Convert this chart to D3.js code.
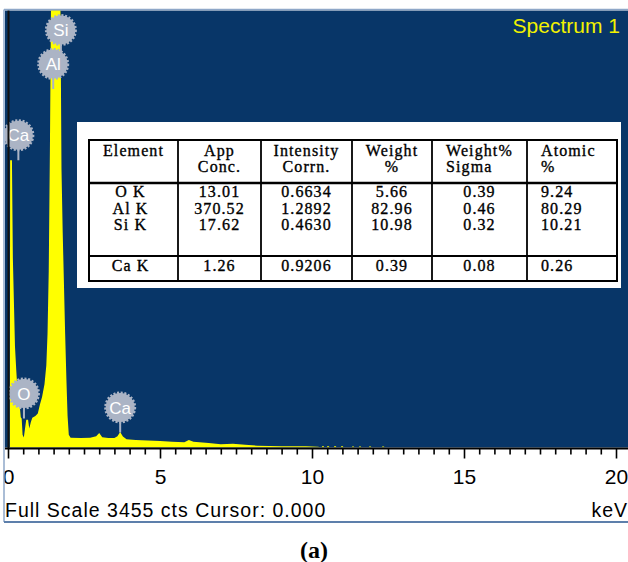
<!DOCTYPE html>
<html>
<head>
<meta charset="utf-8">
<script src="https://cdn.jsdelivr.net/npm/d3@7"></script>
<style>
  body { margin: 0; background: #ffffff; }
  svg { display: block; }
</style>
</head>
<body>
<div id="my_dataviz"></div>
<script>
// ---------------------------//
//       DATA                 //
// ---------------------------//
var fullScale = 3455;
var cursorValue = "0.000";
var spectrumTitle = "Spectrum 1";

// spectrum (keV, counts)
var spectrumKeV = [0, 0.06, 0.07, 0.13, 0.16, 0.2, 0.23, 0.27, 0.3, 0.34, 0.38, 0.42, 0.45, 0.48, 0.52,
  0.56, 0.6, 0.66, 0.7, 0.75, 0.8, 0.9, 0.98, 1.05, 1.12, 1.2, 1.26, 1.3, 1.34, 1.38, 1.42, 1.48,
  1.55, 1.65, 1.72, 1.76, 1.8, 1.84, 1.88, 1.92, 1.96, 2.0, 2.06, 2.4, 2.7, 2.9, 3.0, 3.1, 3.3, 3.5,
  3.6, 3.69, 3.78, 3.9, 4.2, 4.6, 5.0, 5.4, 5.8, 5.95, 6.1, 6.4, 6.6, 7.0, 7.4, 7.8, 8.2, 9.0, 9.8,
  10.2, 10.3, 20.5];
var spectrumCounts = [0, 0, 2274, 2274, 1500, 1100, 800, 620, 500, 420, 350, 240, 230, 100, 80,
  150, 220, 220, 150, 200, 235, 250, 270, 340, 400, 500, 650, 900, 1400, 2400, 3700, 4300,
  4400, 4300, 3700, 2200, 1700, 1300, 900, 550, 250, 100, 78, 75, 78, 90, 115, 82, 75, 76,
  90, 122, 88, 66, 60, 56, 52, 46, 42, 60, 45, 40, 35, 26, 30, 22, 14, 10, 9,
  5, 0, 0];

// isolated counts beyond 10 keV
var noiseKeV = [10.36, 10.53, 10.76, 10.99, 11.35, 11.58, 11.91, 12.34];
var noiseCounts = [10, 10, 10, 10, 8, 8, 8, 8];

// element markers
var markerNames = ["Si", "Al", "Ca", "O", "Ca"];
var markerKeV = [1.74, 1.487, 0.341, 0.525, 3.69];
var markerCounts = [3106, 2837, 2274, 230, 119];

// x axis labels
var tickLabels = [0, 5, 10, 15, 20];

// table
var headerLine1 = ["Element", "App", "Intensity", "Weight", "Weight%", "Atomic"];
var headerLine2 = ["", "Conc.", "Corrn.", "%", "Sigma", "%"];
var elements = ["O K", "Al K", "Si K", "Ca K"];
var appConc = ["13.01", "370.52", "17.62", "1.26"];
var intensityCorrn = ["0.6634", "1.2892", "0.4630", "0.9206"];
var weightPct = ["5.66", "82.96", "10.98", "0.39"];
var weightSigma = ["0.39", "0.46", "0.32", "0.08"];
var atomicPct = ["9.24", "80.29", "10.21", "0.26"];

var fontSans = "'Liberation Sans', Arial, sans-serif";
var fontSerif = "'Liberation Serif', 'Times New Roman', serif";
var bgBlue = "#083668";
var specYellow = "#ffff00";
var markerGrey = "#abb4c5";

var width = 628, height = 562;

var svg = d3.select("#my_dataviz")
  .append("svg")
    .attr("width", width)
    .attr("height", height);

// ---------------------------//
//       SCALES               //
// ---------------------------//
var x = d3.scaleLinear().domain([0, 20]).range([8, 616]);
var y = d3.scaleLinear().domain([0, fullScale]).range([447.5, 11]);

// plot panel
svg.append("rect")
  .attr("x", 5).attr("y", 10.5)
  .attr("width", width - 5).attr("height", 437)
  .attr("fill", bgBlue);

svg.append("defs").append("clipPath")
    .attr("id", "clip")
  .append("rect")
    .attr("x", 5).attr("y", 10.5)
    .attr("width", width - 5).attr("height", 437);

var plot = svg.append("g").attr("clip-path", "url(#clip)");

// ---------------------------//
//       SPECTRUM             //
// ---------------------------//
var spectrum = spectrumKeV.map(function(k, i) { return [k, spectrumCounts[i]]; });

var area = d3.area()
  .x(function(d) { return x(d[0]); })
  .y0(y(0))
  .y1(function(d) { return y(d[1]); });

plot.append("path")
  .datum(spectrum)
  .attr("d", area)
  .attr("fill", specYellow);

plot.selectAll("noise")
  .data(noiseKeV)
  .enter()
  .append("rect")
    .attr("x", function(d) { return x(d) - 1; })
    .attr("y", function(d, i) { return y(noiseCounts[i]); })
    .attr("width", 2)
    .attr("height", function(d, i) { return y(0) - y(noiseCounts[i]); })
    .attr("fill", specYellow);

// y axis line
svg.append("line")
  .attr("x1", 8.5).attr("x2", 8.5)
  .attr("y1", 10.5).attr("y2", 448)
  .attr("stroke", "#111111").attr("stroke-width", 2);

// ---------------------------//
//       MARKERS              //
// ---------------------------//
var markers = plot.selectAll("marker")
  .data(markerNames)
  .enter()
  .append("g")
    .attr("transform", function(d, i) {
      return "translate(" + x(markerKeV[i]) + "," + y(markerCounts[i]) + ")";
    });

markers.append("line")
  .attr("x1", 0).attr("x2", 0)
  .attr("y1", -24).attr("y2", 0)
  .attr("stroke", markerGrey).attr("stroke-width", 2);

markers.append("circle")
  .attr("cx", 0).attr("cy", -25)
  .attr("r", 14.5)
  .attr("fill", markerGrey)
  .attr("stroke", markerGrey)
  .attr("stroke-width", 3)
  .style("stroke-dasharray", "2,1.6");

markers.append("text")
  .attr("x", 0).attr("y", -25)
  .attr("dy", "0.36em")
  .attr("text-anchor", "middle")
  .attr("font-family", fontSans)
  .attr("font-size", 17)
  .attr("fill", "#ffffff")
  .text(function(d) { return d; });

// title
svg.append("text")
  .attr("x", 620).attr("y", 33)
  .attr("text-anchor", "end")
  .attr("font-family", fontSans)
  .attr("font-size", 21)
  .attr("fill", "#f2f200")
  .text(spectrumTitle);

// ---------------------------//
//       X AXIS               //
// ---------------------------//
var xAxis = svg.append("g")
  .attr("transform", "translate(0,448.5)")
  .call(d3.axisBottom(x).ticks(40).tickSize(6).tickFormat(function(d) {
    return tickLabels.indexOf(d) >= 0 ? d : "";
  }));

xAxis.select(".domain").remove();
xAxis.selectAll(".tick line")
  .attr("stroke", "#000000")
  .attr("stroke-width", 1.6)
  .attr("y2", function(d) { return tickLabels.indexOf(d) >= 0 ? 10 : 6; });
xAxis.selectAll(".tick text")
  .attr("y", 35.5).attr("dy", 0)
  .attr("font-family", fontSans)
  .attr("font-size", 21)
  .attr("fill", "#000000");

svg.append("line")
  .attr("x1", 5).attr("x2", width)
  .attr("y1", 448.5).attr("y2", 448.5)
  .attr("stroke", "#000000").attr("stroke-width", 2);

// status line
svg.append("text")
  .attr("x", 5).attr("y", 517)
  .attr("font-family", fontSans)
  .attr("font-size", 19.5)
  .attr("letter-spacing", 1)
  .attr("fill", "#000000")
  .text("Full Scale " + fullScale + " cts Cursor: " + cursorValue);

svg.append("text")
  .attr("x", 628).attr("y", 517)
  .attr("text-anchor", "end")
  .attr("font-family", fontSans)
  .attr("font-size", 19.5)
  .attr("letter-spacing", 1)
  .attr("fill", "#000000")
  .text("keV");

// frame
svg.append("rect")
  .attr("x", 0).attr("y", 0).attr("width", 3.5).attr("height", 530)
  .attr("fill", "#ffffff");
svg.append("line")
  .attr("x1", 4).attr("x2", 4).attr("y1", 9.5).attr("y2", 522)
  .attr("stroke", "#8ea7c8").attr("stroke-width", 1.5);
svg.append("line")
  .attr("x1", 4).attr("x2", width).attr("y1", 9.5).attr("y2", 9.5)
  .attr("stroke", "#8ea7c8").attr("stroke-width", 1.5);
svg.append("line")
  .attr("x1", 4).attr("x2", width).attr("y1", 522).attr("y2", 522)
  .attr("stroke", "#5d7fab").attr("stroke-width", 2);

// ---------------------------//
//       TABLE                //
// ---------------------------//
var cols = [89, 178, 261, 352, 432, 527, 617];
var tTop = 140, tBottom = 281;

svg.append("rect")
  .attr("x", 77).attr("y", 122)
  .attr("width", 544).attr("height", 166)
  .attr("fill", "#ffffff");

var table = svg.append("g");

table.append("rect")
  .attr("x", cols[0]).attr("y", tTop)
  .attr("width", cols[6] - cols[0]).attr("height", tBottom - tTop)
  .attr("fill", "none").attr("stroke", "#000000").attr("stroke-width", 2);

table.selectAll("vline")
  .data(cols.slice(1, 6))
  .enter()
  .append("line")
    .attr("x1", function(d) { return d; }).attr("x2", function(d) { return d; })
    .attr("y1", tTop).attr("y2", tBottom)
    .attr("stroke", "#000000").attr("stroke-width", 1.8);

table.append("line")
  .attr("x1", cols[0]).attr("x2", cols[6]).attr("y1", 183).attr("y2", 183)
  .attr("stroke", "#000000").attr("stroke-width", 2.5);
table.append("line")
  .attr("x1", cols[0]).attr("x2", cols[6]).attr("y1", 256).attr("y2", 256)
  .attr("stroke", "#000000").attr("stroke-width", 2);

var headAnchor = ["middle", "middle", "middle", "middle", "start", "start"];
var bodyAnchor = ["middle", "middle", "middle", "middle", "middle", "start"];
var colX = function(i, anchor) {
  if (anchor == "start") return cols[i] + 14;
  return (cols[i] + cols[i + 1]) / 2;
};

function cellText(sel, xPos, yPos, anchor, txt) {
  sel.append("text")
    .attr("x", xPos).attr("y", yPos)
    .attr("text-anchor", anchor)
    .attr("font-family", fontSerif)
    .attr("font-size", 16)
    .attr("letter-spacing", 1.1)
    .attr("fill", "#000000")
    .attr("stroke", "#000000")
    .attr("stroke-width", 0.35)
    .text(txt);
}

headerLine1.forEach(function(h, i) {
  cellText(table, colX(i, headAnchor[i]), 156, headAnchor[i], h);
  if (headerLine2[i]) cellText(table, colX(i, headAnchor[i]), 172, headAnchor[i], headerLine2[i]);
});

var rowY = [197, 214, 230, 271];
var columnsData = [elements, appConc, intensityCorrn, weightPct, weightSigma, atomicPct];
columnsData.forEach(function(colValues, i) {
  colValues.forEach(function(v, r) {
    var xp = i == 0 ? colX(i, "middle") - 3 : colX(i, bodyAnchor[i]);
    cellText(table, xp, rowY[r], bodyAnchor[i], v);
  });
});

// caption
svg.append("text")
  .attr("x", 314).attr("y", 558)
  .attr("text-anchor", "middle")
  .attr("font-family", fontSerif)
  .attr("font-weight", 700)
  .attr("font-size", 24)
  .attr("fill", "#000000")
  .text("(a)");
</script>
</body>
</html>
